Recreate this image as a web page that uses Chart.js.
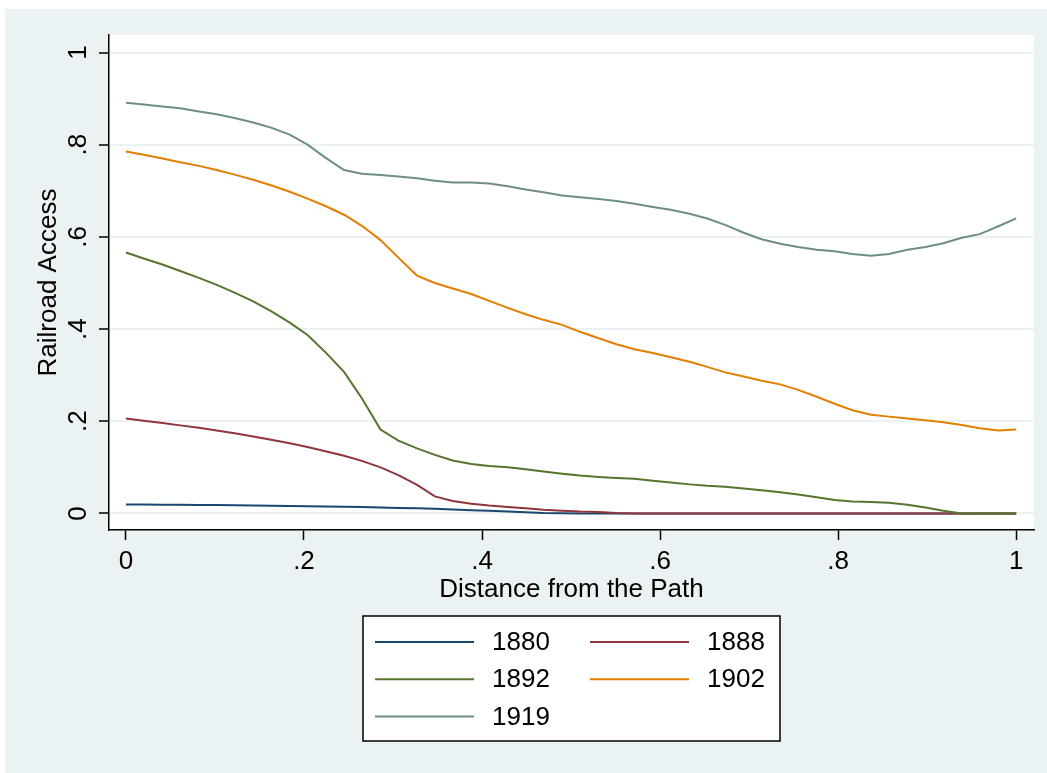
<!DOCTYPE html>
<html>
<head>
<meta charset="utf-8">
<script src="https://cdn.jsdelivr.net/npm/chart.js@4.4.1/dist/chart.umd.min.js"></script>
<style>
  html, body { margin: 0; padding: 0; background: #ffffff; }
  #wrap { position: relative; width: 1047px; height: 773px; }
  canvas { display: block; }
</style>
</head>
<body>
<div id="wrap"><canvas id="c" width="1047" height="773"></canvas></div>
<script>
// ---- data ----
const distance = [0, .020, .041, .061, .082, .102, .122, .143, .163, .184, .204, .224, .245, .265, .286, .306, .327, .347, .367, .388, .408, .429, .449, .469, .490, .510, .531, .551, .571, .592, .612, .633, .653, .673, .694, .714, .735, .755, .776, .796, .816, .837, .857, .878, .898, .918, .939, .959, .980, 1];

const years = ['1880', '1888', '1892', '1902', '1919'];

const access1880 = [.0195, .0193, .019, .0188, .0185, .018, .0175, .017, .0165, .016, .0155, .015, .0145, .014, .013, .012, .011, .010, .0085, .007, .0055, .004, .0025, .001, .0005, 0, 0, 0, 0, 0, 0, 0, 0, 0, 0, 0, 0, 0, 0, 0, 0, 0, 0, 0, 0, 0, 0, 0, 0, 0];
const access1888 = [.206, .201, .196, .191, .186, .180, .174, .167, .160, .152, .144, .135, .125, .114, .100, .083, .062, .037, .027, .021, .017, .014, .011, .008, .006, .004, .003, .001, 0, 0, 0, 0, 0, 0, 0, 0, 0, 0, 0, 0, 0, 0, 0, 0, 0, 0, 0, 0, 0, 0];
const access1892 = [.566, .553, .540, .526, .511, .496, .479, .460, .439, .414, .387, .350, .307, .250, .182, .158, .141, .127, .115, .107, .103, .100, .096, .091, .086, .082, .079, .077, .075, .071, .067, .063, .060, .058, .054, .050, .046, .041, .035, .029, .026, .025, .023, .019, .013, .006, 0, 0, 0, 0];
const access1902 = [.785, .778, .770, .762, .754, .745, .735, .724, .712, .698, .683, .667, .648, .624, .593, .555, .516, .500, .488, .476, .461, .446, .432, .420, .409, .394, .380, .367, .356, .348, .339, .329, .318, .306, .297, .288, .280, .268, .253, .238, .224, .214, .210, .206, .202, .198, .192, .185, .180, .182];
const access1919 = [.891, .887, .883, .879, .872, .866, .858, .848, .837, .822, .800, .772, .745, .737, .734, .731, .727, .722, .718, .718, .716, .710, .703, .697, .690, .686, .682, .678, .672, .665, .659, .650, .640, .626, .609, .595, .585, .578, .572, .569, .563, .559, .563, .572, .578, .586, .598, .606, .623, .640];

const xTickValues = [0, .2, .4, .6, .8, 1];
const xTickLabels = ['0', '.2', '.4', '.6', '.8', '1'];
const yTickValues = [0, .2, .4, .6, .8, 1];
const yTickLabels = ['0', '.2', '.4', '.6', '.8', '1'];

const xTitle = 'Distance from the Path';
const yTitle = 'Railroad Access';

// ---- styles ----
const seriesValues = [access1880, access1888, access1892, access1902, access1919];
const seriesColors = ['#1a476f', '#90353b', '#55752f', '#e37e00', '#6e8e84'];
const BG = '#eaf2f3';
const FONT = 'Liberation Sans, Arial, Helvetica, sans-serif';

const datasets = years.map((y, i) => ({
  label: y,
  data: distance.map((d, j) => ({ x: d, y: seriesValues[i][j] })),
  borderColor: seriesColors[i],
  backgroundColor: seriesColors[i],
  borderWidth: 2,
  pointRadius: 0,
  tension: 0,
  fill: false,
  order: years.length - i
}));

const bgPlugin = {
  id: 'bg',
  beforeDraw(chart) {
    const ctx = chart.ctx, a = chart.chartArea;
    ctx.save();
    ctx.fillStyle = '#ffffff';
    ctx.fillRect(0, 0, chart.width, chart.height);
    ctx.fillStyle = BG;
    ctx.fillRect(5, 9, chart.width - 5, chart.height - 9);
    ctx.fillStyle = '#ffffff';
    ctx.fillRect(a.left, a.top, a.right - a.left, a.bottom - a.top);
    ctx.restore();
  }
};

const yLabelPlugin = {
  id: 'yLabels',
  afterDraw(chart) {
    const ctx = chart.ctx, s = chart.scales.y;
    ctx.save();
    ctx.fillStyle = '#000';
    ctx.font = '26px ' + FONT;
    ctx.textAlign = 'center';
    ctx.textBaseline = 'middle';
    yTickValues.forEach((v, i) => {
      const py = s.getPixelForValue(v);
      ctx.save();
      ctx.translate(79, py);
      ctx.rotate(-Math.PI / 2);
      ctx.fillText(yTickLabels[i], 0, 0);
      ctx.restore();
    });
    ctx.restore();
  }
};

const legendPlugin = {
  id: 'boxLegend',
  afterDraw(chart) {
    const ctx = chart.ctx;
    const bx = 363, by = 616, bw = 417, bh = 125;
    ctx.save();
    ctx.fillStyle = '#ffffff';
    ctx.fillRect(bx, by, bw, bh);
    ctx.strokeStyle = '#000';
    ctx.lineWidth = 1.5;
    ctx.strokeRect(bx, by, bw, bh);
    ctx.font = '26px ' + FONT;
    ctx.textBaseline = 'middle';
    ctx.textAlign = 'left';
    chart.data.datasets.forEach((ds, i) => {
      const col = i % 2, row = Math.floor(i / 2);
      const lx = bx + 12 + col * 215;
      const ly = by + 26 + row * 37.3;
      ctx.strokeStyle = ds.borderColor;
      ctx.lineWidth = 2;
      ctx.beginPath();
      ctx.moveTo(lx, ly);
      ctx.lineTo(lx + 99, ly);
      ctx.stroke();
      ctx.fillStyle = '#000';
      ctx.fillText(ds.label, lx + 117, ly + 1);
    });
    ctx.restore();
  }
};

new Chart(document.getElementById('c'), {
  type: 'line',
  data: { datasets },
  options: {
    responsive: false,
    animation: false,
    devicePixelRatio: 1,
    layout: { padding: { left: 0, right: 13, top: 35, bottom: 0 } },
    plugins: { legend: { display: false }, tooltip: { enabled: false } },
    scales: {
      x: {
        type: 'linear',
        min: -0.019,
        max: 1.02,
        afterBuildTicks(s) { s.ticks = xTickValues.map(v => ({ value: v })); },
        afterFit(s) { s.height = 243; },
        ticks: {
          color: '#000',
          font: { size: 26, family: FONT },
          padding: 6,
          maxRotation: 0,
          autoSkip: false,
          callback(v) { const i = xTickValues.indexOf(v); return i >= 0 ? xTickLabels[i] : ''; }
        },
        grid: { drawOnChartArea: false, tickLength: 10, tickColor: '#000', tickWidth: 1.5 },
        border: { color: '#000', width: 1.5 },
        title: { display: true, text: xTitle, color: '#000', font: { size: 26, family: FONT }, padding: { top: 0, bottom: 168 } }
      },
      y: {
        type: 'linear',
        min: -0.036,
        max: 1.038,
        afterBuildTicks(s) { s.ticks = yTickValues.map(v => ({ value: v })); },
        afterFit(s) { s.width = 109; },
        ticks: { display: false },
        grid: { drawOnChartArea: true, color: BG, lineWidth: 2, tickLength: 10, tickColor: '#000', tickWidth: 1.5 },
        border: { color: '#000', width: 1.5 },
        title: { display: true, text: yTitle, color: '#000', font: { size: 26, family: FONT }, padding: { top: 33, bottom: 0 } }
      }
    }
  },
  plugins: [bgPlugin, yLabelPlugin, legendPlugin]
});
</script>
</body>
</html>
